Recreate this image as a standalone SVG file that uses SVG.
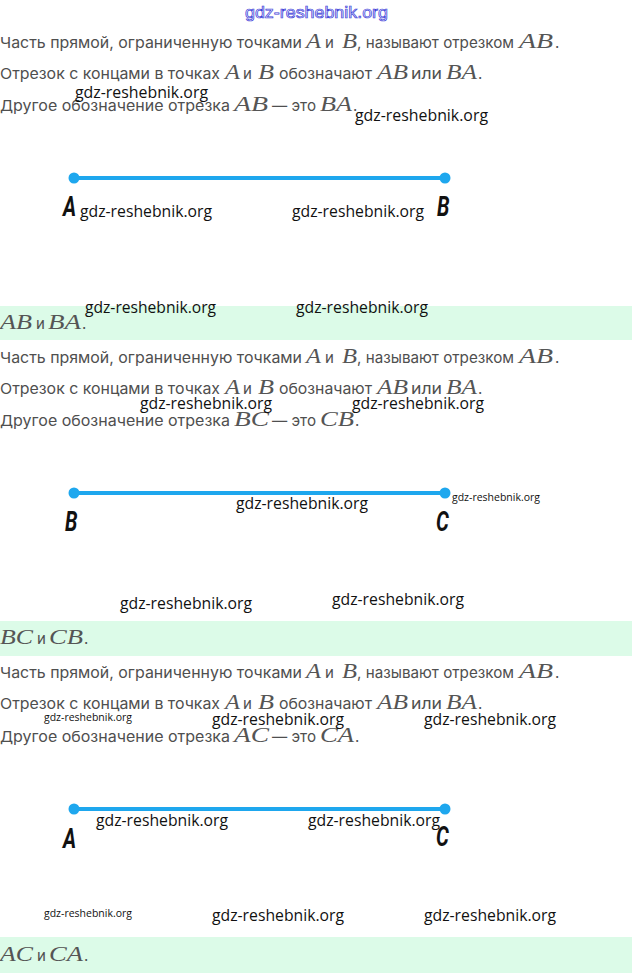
<svg xmlns="http://www.w3.org/2000/svg" xmlns:xlink="http://www.w3.org/1999/xlink" width="632" height="973" viewBox="0 0 632 973">
<style>
.t{font-family:Inter,"Noto Sans",sans-serif;font-size:15px;fill:#4f4f4f}
.m{font-family:"Liberation Serif",serif;font-style:italic;font-size:20px;fill:#555555}
.w{font-family:"Open Sans","Noto Sans",sans-serif;font-size:16px;fill:#111}
.ws{font-family:"Open Sans","Noto Sans",sans-serif;font-size:10.5px;fill:#111}
.lbl{font-family:Roboto,"Liberation Sans",sans-serif;font-weight:700;font-style:italic;font-size:28px;fill:#111}
.band{fill:#dcfbe8}
.seg{stroke:#1ea7ee;stroke-width:4;stroke-linecap:round}
.dot{fill:#1ea7ee}
.hdr{font-family:"Liberation Sans",sans-serif;font-size:16px;fill:#eef0ff;stroke:#4040d8;stroke-width:0.7}
</style>
<defs>
<g id="line12">
<text class="t" x="0" y="48" textLength="302" lengthAdjust="spacingAndGlyphs">Часть прямой, ограниченную точками</text>
<text class="m" x="306" y="48" textLength="15" lengthAdjust="spacingAndGlyphs">A</text>
<text class="t" x="325" y="48">и</text>
<text class="m" x="342" y="48" textLength="15" lengthAdjust="spacingAndGlyphs">B</text>
<text class="t" x="357" y="48" textLength="157" lengthAdjust="spacingAndGlyphs">, называют отрезком</text>
<text class="m" x="519" y="48" textLength="34" lengthAdjust="spacingAndGlyphs">AB</text>
<text class="t" x="555" y="48">.</text>
<text class="t" x="0" y="79" textLength="220" lengthAdjust="spacingAndGlyphs">Отрезок с концами в точках</text>
<text class="m" x="225" y="79" textLength="15" lengthAdjust="spacingAndGlyphs">A</text>
<text class="t" x="243" y="79">и</text>
<text class="m" x="258" y="79" textLength="16" lengthAdjust="spacingAndGlyphs">B</text>
<text class="t" x="279" y="79" textLength="93" lengthAdjust="spacingAndGlyphs">обозначают</text>
<text class="m" x="377" y="79" textLength="31" lengthAdjust="spacingAndGlyphs">AB</text>
<text class="t" x="411" y="79" textLength="31" lengthAdjust="spacingAndGlyphs">или</text>
<text class="m" x="446" y="79" textLength="31" lengthAdjust="spacingAndGlyphs">BA</text>
<text class="t" x="478" y="79">.</text>
</g>
</defs>

<text class="hdr" x="245" y="18" textLength="143" lengthAdjust="spacingAndGlyphs">gdz-reshebnik.org</text>

<g id="section1">
<use xlink:href="#line12"/>
<text class="t" x="0" y="111" textLength="230" lengthAdjust="spacingAndGlyphs">Другое обозначение отрезка</text>
<text class="m" x="234" y="111" textLength="34" lengthAdjust="spacingAndGlyphs">AB</text>
<text class="t" x="272" y="111" textLength="44" lengthAdjust="spacingAndGlyphs">— это</text>
<text class="m" x="320" y="111" textLength="32" lengthAdjust="spacingAndGlyphs">BA</text>
<text class="t" x="353" y="111">.</text>
<g id="connectors1"><line class="seg" x1="74" y1="178" x2="445" y2="178"/></g>
<g id="nodeA1"><circle class="dot" cx="74" cy="178" r="5.5"/><text class="lbl" transform="translate(63,216) scale(0.72,1)">A</text></g>
<g id="nodeB1"><circle class="dot" cx="445" cy="178" r="5.5"/><text class="lbl" transform="translate(437,216) scale(0.72,1)">B</text></g>
<rect class="band" x="0" y="306" width="632" height="34"/>
<text class="m" x="0" y="329" textLength="32" lengthAdjust="spacingAndGlyphs">AB</text>
<text class="t" x="36" y="329">и</text>
<text class="m" x="48" y="329" textLength="33" lengthAdjust="spacingAndGlyphs">BA</text>
<text class="t" x="82" y="329">.</text>
</g>

<g id="section2">
<use xlink:href="#line12" transform="translate(0,315)"/>
<text class="t" x="0" y="426" textLength="230" lengthAdjust="spacingAndGlyphs">Другое обозначение отрезка</text>
<text class="m" x="234" y="426" textLength="35" lengthAdjust="spacingAndGlyphs">BC</text>
<text class="t" x="272" y="426" textLength="44" lengthAdjust="spacingAndGlyphs">— это</text>
<text class="m" x="320" y="426" textLength="34" lengthAdjust="spacingAndGlyphs">CB</text>
<text class="t" x="355" y="426">.</text>
<g id="connectors2"><line class="seg" x1="74" y1="493" x2="445" y2="493"/></g>
<g id="nodeB2"><circle class="dot" cx="74" cy="493" r="5.5"/><text class="lbl" transform="translate(65,531) scale(0.72,1)">B</text></g>
<g id="nodeC2"><circle class="dot" cx="445" cy="493" r="5.5"/><text class="lbl" transform="translate(436,531) scale(0.72,1)">C</text></g>
<rect class="band" x="0" y="621" width="632" height="35"/>
<text class="m" x="0" y="644" textLength="33" lengthAdjust="spacingAndGlyphs">BC</text>
<text class="t" x="37" y="644">и</text>
<text class="m" x="49" y="644" textLength="34" lengthAdjust="spacingAndGlyphs">CB</text>
<text class="t" x="84" y="644">.</text>
</g>

<g id="section3">
<use xlink:href="#line12" transform="translate(0,630)"/>
<text class="t" x="0" y="742" textLength="230" lengthAdjust="spacingAndGlyphs">Другое обозначение отрезка</text>
<text class="m" x="234" y="742" textLength="35" lengthAdjust="spacingAndGlyphs">AC</text>
<text class="t" x="272" y="742" textLength="44" lengthAdjust="spacingAndGlyphs">— это</text>
<text class="m" x="320" y="742" textLength="34" lengthAdjust="spacingAndGlyphs">CA</text>
<text class="t" x="355" y="742">.</text>
<g id="connectors3"><line class="seg" x1="74" y1="809" x2="445" y2="809"/></g>
<g id="nodeA3"><circle class="dot" cx="74" cy="809" r="5.5"/><text class="lbl" transform="translate(63,848) scale(0.72,1)">A</text></g>
<g id="nodeC3"><circle class="dot" cx="445" cy="809" r="5.5"/><text class="lbl" transform="translate(436,846) scale(0.72,1)">C</text></g>
<rect class="band" x="0" y="937" width="632" height="36"/>
<text class="m" x="0" y="961" textLength="33" lengthAdjust="spacingAndGlyphs">AC</text>
<text class="t" x="37" y="961">и</text>
<text class="m" x="49" y="961" textLength="34" lengthAdjust="spacingAndGlyphs">CA</text>
<text class="t" x="84" y="961">.</text>
</g>

<g id="watermarks">
<text class="w" x="75" y="98" textLength="133" lengthAdjust="spacingAndGlyphs">gdz-reshebnik.org</text>
<text class="w" x="355" y="121" textLength="133" lengthAdjust="spacingAndGlyphs">gdz-reshebnik.org</text>
<text class="w" x="80" y="217" textLength="132" lengthAdjust="spacingAndGlyphs">gdz-reshebnik.org</text>
<text class="w" x="292" y="217" textLength="132" lengthAdjust="spacingAndGlyphs">gdz-reshebnik.org</text>
<text class="w" x="85" y="313" textLength="131" lengthAdjust="spacingAndGlyphs">gdz-reshebnik.org</text>
<text class="w" x="296" y="313" textLength="132" lengthAdjust="spacingAndGlyphs">gdz-reshebnik.org</text>
<text class="w" x="140" y="409" textLength="132" lengthAdjust="spacingAndGlyphs">gdz-reshebnik.org</text>
<text class="w" x="352" y="409" textLength="132" lengthAdjust="spacingAndGlyphs">gdz-reshebnik.org</text>
<text class="w" x="236" y="509" textLength="132" lengthAdjust="spacingAndGlyphs">gdz-reshebnik.org</text>
<text class="ws" x="452" y="501" textLength="88" lengthAdjust="spacingAndGlyphs">gdz-reshebnik.org</text>
<text class="w" x="120" y="609" textLength="132" lengthAdjust="spacingAndGlyphs">gdz-reshebnik.org</text>
<text class="w" x="332" y="605" textLength="132" lengthAdjust="spacingAndGlyphs">gdz-reshebnik.org</text>
<text class="ws" x="44" y="721" textLength="88" lengthAdjust="spacingAndGlyphs">gdz-reshebnik.org</text>
<text class="w" x="212" y="725" textLength="132" lengthAdjust="spacingAndGlyphs">gdz-reshebnik.org</text>
<text class="w" x="424" y="725" textLength="132" lengthAdjust="spacingAndGlyphs">gdz-reshebnik.org</text>
<text class="w" x="96" y="826" textLength="132" lengthAdjust="spacingAndGlyphs">gdz-reshebnik.org</text>
<text class="w" x="308" y="826" textLength="132" lengthAdjust="spacingAndGlyphs">gdz-reshebnik.org</text>
<text class="ws" x="44" y="917" textLength="88" lengthAdjust="spacingAndGlyphs">gdz-reshebnik.org</text>
<text class="w" x="212" y="921" textLength="132" lengthAdjust="spacingAndGlyphs">gdz-reshebnik.org</text>
<text class="w" x="424" y="921" textLength="132" lengthAdjust="spacingAndGlyphs">gdz-reshebnik.org</text>
</g>
</svg>
